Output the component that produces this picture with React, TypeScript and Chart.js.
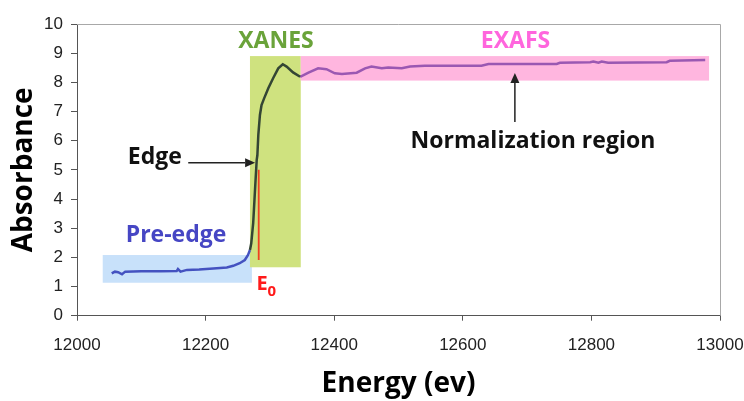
import React, { useEffect, useRef } from "react";
import { Chart, registerables } from "chart.js";

Chart.register(...registerables);

// ---- Data ----
const preEdgeEnergy = [12054, 12059, 12064, 12070, 12075, 12100, 12130, 12155, 12157, 12161, 12171, 12190, 12212, 12233, 12243, 12253, 12261, 12266, 12269];
const preEdgeAbsorbance = [1.45, 1.51, 1.49, 1.42, 1.51, 1.52, 1.52, 1.53, 1.6, 1.51, 1.57, 1.58, 1.62, 1.65, 1.71, 1.8, 1.91, 2.08, 2.25];

const xanesEnergy = [12269, 12271, 12273, 12274, 12276, 12278, 12279.5, 12280.5, 12282, 12284.5, 12287, 12291, 12297.5, 12305, 12313, 12320, 12326, 12336, 12347];
const xanesAbsorbance = [2.25, 2.48, 2.94, 3.17, 3.97, 4.77, 5.34, 5.5, 6.2, 6.88, 7.22, 7.45, 7.8, 8.14, 8.48, 8.62, 8.54, 8.34, 8.19];

const exafsEnergy = [12347, 12360, 12375, 12388, 12401, 12412, 12435, 12448, 12458, 12474, 12484, 12505, 12518, 12541, 12629, 12640, 12681, 12746, 12751, 12798, 12803, 12811, 12816, 12826, 12917, 12922, 12977];
const exafsAbsorbance = [8.19, 8.33, 8.48, 8.45, 8.31, 8.29, 8.33, 8.48, 8.54, 8.48, 8.51, 8.48, 8.54, 8.57, 8.57, 8.63, 8.63, 8.63, 8.67, 8.69, 8.71, 8.67, 8.71, 8.67, 8.69, 8.74, 8.77];

const e0Energy = [12282.6, 12282.6];
const e0Absorbance = [1.91, 5.0];

// shaded regions
const regionNames = ["Pre-edge", "XANES", "EXAFS"];
const regionStartE = [12040, 12269, 12348];
const regionEndE = [12272, 12348, 12983];
const regionLowA = [1.13, 1.66, 8.06];
const regionHighA = [2.08, 8.9, 8.9];
const regionColors = ["#c8e1fa", "#cfe27f", "#ffb6df"];

// text labels (centre energy, baseline absorbance)
const labelTexts = ["XANES", "EXAFS", "Normalization region", "Edge", "Pre-edge"];
const labelE = [12309.5, 12682, 12709, 12121, 12154];
const labelA = [9.17, 9.17, 5.76, 5.2, 2.54];
const labelColors = ["#6aa33a", "#ff66dd", "#111111", "#111111", "#4646c4"];

// arrows
const arrowFromE = [12173, 12681];
const arrowFromA = [5.24, 6.64];
const arrowToE = [12277, 12681];
const arrowToA = [5.24, 8.32];

// E0 label
const e0LabelE = 12279;
const e0LabelA = 0.88;

// ticks
const xTickValues = [12000, 12200, 12400, 12600, 12800, 13000];
const yTickValues = [0, 1, 2, 3, 4, 5, 6, 7, 8, 9, 10];

const toPts = (xs: number[], ys: number[]) => xs.map((x, i) => ({ x, y: ys[i] }));

const LABEL_FONT = "'Open Sans'";

const annotationPlugin = {
  id: "xasAnnotations",
  beforeDatasetsDraw(chart: any) {
    const { ctx, scales, chartArea } = chart;
    const x = scales.x;
    const y = scales.y;
    ctx.save();
    regionNames.forEach((_, i) => {
      const x0 = x.getPixelForValue(regionStartE[i]);
      const x1 = x.getPixelForValue(regionEndE[i]);
      const y0 = y.getPixelForValue(regionHighA[i]);
      const y1 = y.getPixelForValue(regionLowA[i]);
      ctx.fillStyle = regionColors[i];
      ctx.fillRect(x0, y0, x1 - x0, y1 - y0);
    });
    // top and right frame
    ctx.strokeStyle = "#a8a8a8";
    ctx.lineWidth = 1;
    ctx.beginPath();
    ctx.moveTo(chartArea.left, chartArea.top + 0.5);
    ctx.lineTo(chartArea.right + 0.5, chartArea.top + 0.5);
    ctx.lineTo(chartArea.right + 0.5, chartArea.bottom);
    ctx.stroke();
    ctx.restore();
  },
  afterDatasetsDraw(chart: any) {
    const { ctx, scales } = chart;
    const x = scales.x;
    const y = scales.y;
    ctx.save();
    ctx.textAlign = "center";
    ctx.textBaseline = "alphabetic";
    labelTexts.forEach((t, i) => {
      ctx.font = `bold 23px ${LABEL_FONT}`;
      ctx.fillStyle = labelColors[i];
      ctx.fillText(t, x.getPixelForValue(labelE[i]), y.getPixelForValue(labelA[i]));
    });
    // arrows
    ctx.strokeStyle = "#222";
    ctx.fillStyle = "#222";
    ctx.lineWidth = 1.5;
    arrowFromE.forEach((_, i) => {
      const fx = x.getPixelForValue(arrowFromE[i]);
      const fy = y.getPixelForValue(arrowFromA[i]);
      const tx = x.getPixelForValue(arrowToE[i]);
      const ty = y.getPixelForValue(arrowToA[i]);
      const ang = Math.atan2(ty - fy, tx - fx);
      const head = 10;
      const half = 4.5;
      const bx = tx - head * Math.cos(ang);
      const by = ty - head * Math.sin(ang);
      ctx.beginPath();
      ctx.moveTo(fx, fy);
      ctx.lineTo(bx, by);
      ctx.stroke();
      ctx.beginPath();
      ctx.moveTo(tx, ty);
      ctx.lineTo(bx + half * Math.sin(ang), by - half * Math.cos(ang));
      ctx.lineTo(bx - half * Math.sin(ang), by + half * Math.cos(ang));
      ctx.closePath();
      ctx.fill();
    });
    // E0 label
    ctx.fillStyle = "#ff1a1a";
    ctx.textAlign = "left";
    const ex = x.getPixelForValue(e0LabelE);
    const ey = y.getPixelForValue(e0LabelA);
    ctx.font = `bold 20px ${LABEL_FONT}`;
    ctx.fillText("E", ex, ey);
    const w = ctx.measureText("E").width;
    ctx.font = `bold 15px ${LABEL_FONT}`;
    ctx.fillText("0", ex + w, ey + 6);
    ctx.restore();
  },
};

export default function App() {
  const canvasRef = useRef<HTMLCanvasElement | null>(null);

  useEffect(() => {
    if (!canvasRef.current) return;
    const chart = new Chart(canvasRef.current, {
      type: "line",
      data: {
        datasets: [
          {
            label: "Pre-edge",
            data: toPts(preEdgeEnergy, preEdgeAbsorbance),
            borderColor: "#4452c0",
            borderWidth: 2.5,
            pointRadius: 0,
            tension: 0,
          },
          {
            label: "XANES",
            data: toPts(xanesEnergy, xanesAbsorbance),
            borderColor: "#344634",
            borderWidth: 2.5,
            pointRadius: 0,
            tension: 0,
          },
          {
            label: "EXAFS",
            data: toPts(exafsEnergy, exafsAbsorbance),
            borderColor: "#9a58b2",
            borderWidth: 2.5,
            pointRadius: 0,
            tension: 0,
          },
          {
            label: "E0",
            data: toPts(e0Energy, e0Absorbance),
            borderColor: "#f04020",
            borderWidth: 1.8,
            pointRadius: 0,
          },
        ],
      },
      options: {
        animation: false,
        responsive: false,
        layout: { padding: { top: 24, right: 24, left: 0, bottom: 0 } },
        plugins: {
          legend: { display: false },
          tooltip: { enabled: false },
        },
        scales: {
          x: {
            type: "linear",
            min: 12000,
            max: 13000,
            afterBuildTicks: (s: any) => {
              s.ticks = xTickValues.map((v) => ({ value: v }));
            },
            afterFit: (s: any) => {
              s.height = 85.3;
              s.paddingLeft = 0;
              s.paddingRight = 0;
            },
            grid: { drawOnChartArea: false, tickLength: 5, tickColor: "#555", lineWidth: 1 },
            border: { color: "#555", width: 1 },
            ticks: {
              font: { family: "Liberation Sans", size: 17 },
              color: "#222",
              padding: 14,
              maxRotation: 0,
              autoSkip: false,
              callback: (v: any) => String(v),
            },
            title: {
              display: true,
              text: "Energy (ev)",
              color: "#000",
              font: { family: LABEL_FONT, weight: "bold", size: 28 },
              padding: { top: 0, bottom: 0 },
            },
          },
          y: {
            min: 0,
            max: 10,
            afterBuildTicks: (s: any) => {
              s.ticks = yTickValues.map((v) => ({ value: v }));
            },
            afterFit: (s: any) => {
              s.width = 77;
              s.paddingTop = 0;
              s.paddingBottom = 0;
            },
            grid: { drawOnChartArea: false, tickLength: 6, tickColor: "#555", lineWidth: 1 },
            border: { color: "#555", width: 1 },
            ticks: {
              font: { family: "Liberation Sans", size: 17 },
              color: "#222",
              padding: 8,
              autoSkip: false,
              callback: (v: any) => String(v),
            },
            title: {
              display: true,
              text: "Absorbance",
              color: "#000",
              font: { family: LABEL_FONT, weight: "bold", size: 28 },
              padding: { top: 7, bottom: 0 },
            },
          },
        },
      },
      plugins: [annotationPlugin],
    } as any);
    return () => chart.destroy();
  }, []);

  return (
    <div style={{ position: "absolute", left: 0, top: 0, width: 744, height: 401, background: "#fff" }}>
      <canvas ref={canvasRef} width={744} height={401} style={{ display: "block", width: 744, height: 401 }} />
    </div>
  );
}
